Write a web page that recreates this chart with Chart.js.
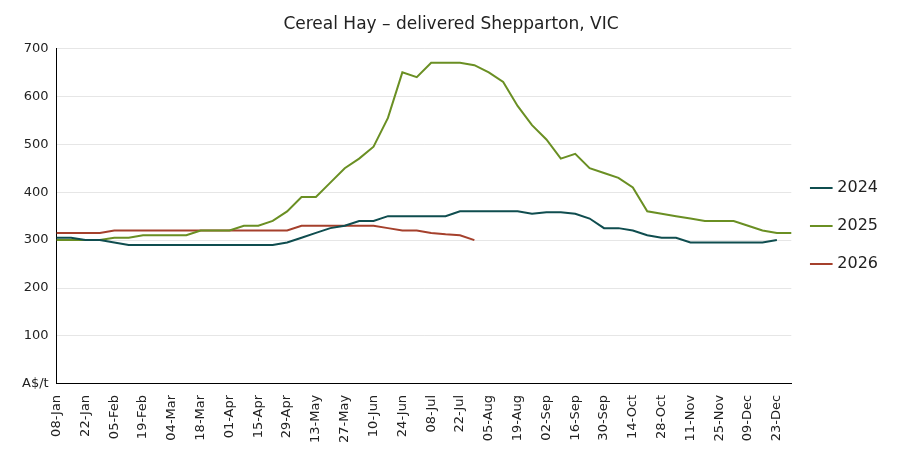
<!DOCTYPE html>
<html><head><meta charset="utf-8">
<script src="https://cdn.jsdelivr.net/npm/chart.js@4"></script>
<style>html,body{margin:0;background:#fff}#w{width:900px;height:450px}</style>
</head><body><div id="w"><canvas id="c"></canvas></div>
<script>
const weeks=["08-Jan","15-Jan","22-Jan","29-Jan","05-Feb","12-Feb","19-Feb","26-Feb","04-Mar","11-Mar","18-Mar","25-Mar","01-Apr","08-Apr","15-Apr","22-Apr","29-Apr","06-May","13-May","20-May","27-May","03-Jun","10-Jun","17-Jun","24-Jun","01-Jul","08-Jul","15-Jul","22-Jul","29-Jul","05-Aug","12-Aug","19-Aug","26-Aug","02-Sep","09-Sep","16-Sep","23-Sep","30-Sep","07-Oct","14-Oct","21-Oct","28-Oct","04-Nov","11-Nov","18-Nov","25-Nov","02-Dec","09-Dec","16-Dec","23-Dec","30-Dec"];
const s2024=[305,305,300,300,295,290,290,290,290,290,290,290,290,290,290,290,295,305,315,325,330,340,340,350,350,350,350,350,360,360,360,360,360,355,358,358,355,345,325,325,320,310,305,305,295,295,295,295,295,295,300];
const s2025=[300,300,300,300,305,305,310,310,310,310,320,320,320,330,330,340,360,390,390,420,450,470,495,555,650,640,670,670,670,665,650,630,580,540,510,470,480,450,440,430,410,360,355,350,345,340,340,340,330,320,315,315];
const s2026=[315,315,315,315,320,320,320,320,320,320,320,320,320,320,320,320,320,330,330,330,330,330,330,325,320,320,315,312,310,300];
const mk=(l,d,c)=>({label:l,data:d,borderColor:c,backgroundColor:c,borderWidth:2,pointRadius:0,tension:0,fill:false});
const F='DejaVu Sans';
new Chart(document.getElementById('c'),{type:'line',
data:{labels:weeks,datasets:[mk('2024',s2024,'#0f4d4f'),mk('2025',s2025,'#6a8f23'),mk('2026',s2026,'#a5402c')]},
options:{responsive:true,maintainAspectRatio:false,animation:false,
layout:{padding:{left:14,right:12,top:6,bottom:4}},
plugins:{title:{display:true,text:'Cereal Hay – delivered Shepparton, VIC',color:'#222',font:{family:F,size:17,weight:'normal'},padding:{top:8,bottom:14}},
legend:{position:'right',labels:{usePointStyle:true,pointStyle:'line',boxWidth:34,padding:22,color:'#222',font:{family:F,size:16}}},tooltip:{enabled:false}},
scales:{x:{grid:{display:false},border:{color:'#000'},ticks:{color:'#222',maxRotation:90,minRotation:90,autoSkip:false,callback:(v,i)=>i%2===0?weeks[i]:'',font:{family:F,size:13}}},
y:{min:0,max:700,grid:{color:'#e6e6e6',drawTicks:false},border:{color:'#000'},ticks:{stepSize:100,padding:8,color:'#222',callback:v=>v===0?'A$/t':v,font:{family:F,size:13}}}}}});
</script></body></html>
